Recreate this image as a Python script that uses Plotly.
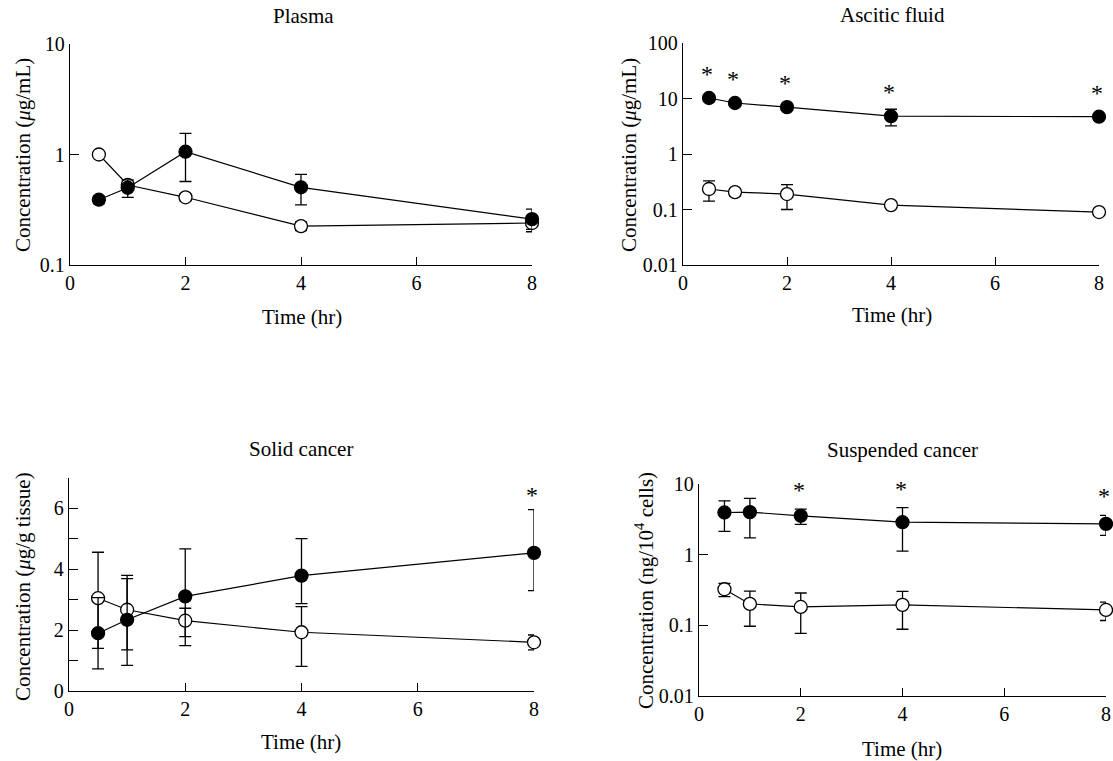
import math
import plotly.graph_objects as go

# ---------------- data ----------------
time = [0.5, 1, 2, 4, 8]

plasma_filled = [0.39, 0.50, 1.06, 0.505, 0.26]
plasma_filled_sd = [0.03, 0.09, 0.49, 0.155, 0.06]
plasma_open = [1.0, 0.53, 0.41, 0.225, 0.24]
plasma_open_sd = [0.05, 0.04, 0.03, 0.02, 0.03]

ascitic_filled = [10.2, 8.3, 7.0, 4.8, 4.7]
ascitic_filled_sd = [1.0, 0.8, 0.8, 1.6, 0.6]
ascitic_open = [0.234, 0.206, 0.19, 0.12, 0.09]
ascitic_open_sd = [0.093, 0.03, 0.09, 0.01, 0.008]

solid_filled = [1.9, 2.34, 3.11, 3.79, 4.54]
solid_filled_up = [1.17, 1.35, 1.56, 1.22, 1.42]
solid_filled_dn = [1.17, 1.50, 1.62, 0.92, 1.24]
solid_open = [3.05, 2.67, 2.31, 1.93, 1.60]
solid_open_up = [1.51, 1.13, 0.41, 0.84, 0.24]
solid_open_dn = [1.65, 1.32, 0.52, 1.12, 0.25]

susp_filled = [3.95, 4.0, 3.55, 2.88, 2.73]
susp_filled_sd = [1.82, 2.27, 0.87, 1.76, 0.86]
susp_open = [0.324, 0.201, 0.182, 0.195, 0.165]
susp_open_sd = [0.069, 0.104, 0.105, 0.107, 0.048]

# significance markers (indices into time)
ascitic_star_idx = [0, 1, 2, 3, 4]
solid_star_idx = [4]
susp_star_idx = [2, 3, 4]

panel_titles = ["Plasma", "Ascitic fluid", "Solid cancer", "Suspended cancer"]
x_title = "Time (hr)"
y_titles = ["Concentration (<i>μ</i>g/mL)", "Concentration (<i>μ</i>g/mL)",
            "Concentration (<i>μ</i>g/g tissue)", "Concentration (ng/10<sup>4</sup> cells)"]
x_ticks = [0, 2, 4, 6, 8]
log_ticks_plasma = [0.1, 1, 10]
log_ticks_ascitic = [0.01, 0.1, 1, 10, 100]
log_ticks_susp = [0.01, 0.1, 1, 10]
lin_ticks_solid = [0, 2, 4, 6]
lin_minor_ticks_solid = [1, 3, 5]

# ---------------- layout helpers ----------------
W, H = 1113, 761
FONT = "Liberation Serif"
FS_TICK = 20
FS_TITLE = 21
FS_STAR = 24


def px(x):
    return x / W


def py(y):
    return 1 - y / H


# panel boxes in pixels: (left, right, top, bottom)
boxes = [(70, 532, 44, 265), (683, 1099, 43, 265), (69, 534, 478, 691), (699, 1106, 484, 696)]

fig = go.Figure()


def add_series(n, y, up, dn, filled):
    ax = "" if n == 1 else str(n)
    fig.add_trace(go.Scatter(
        x=time, y=y, mode="lines+markers", xaxis="x" + ax, yaxis="y" + ax,
        line=dict(color="black", width=1.2),
        marker=dict(size=13, color="black" if filled else "white",
                    line=dict(color="black", width=1.3)),
        error_y=dict(type="data", symmetric=False, array=up, arrayminus=dn,
                     color="black", thickness=1.3, width=6),
        cliponaxis=False, showlegend=False, hoverinfo="x+y"))


add_series(1, plasma_open, plasma_open_sd, plasma_open_sd, False)
add_series(1, plasma_filled, plasma_filled_sd, plasma_filled_sd, True)
add_series(2, ascitic_open, ascitic_open_sd, ascitic_open_sd, False)
add_series(2, ascitic_filled, ascitic_filled_sd, ascitic_filled_sd, True)
add_series(3, solid_open, solid_open_up, solid_open_dn, False)
add_series(3, solid_filled, solid_filled_up, solid_filled_dn, True)
add_series(4, susp_open, susp_open_sd, susp_open_sd, False)
add_series(4, susp_filled, susp_filled_sd, susp_filled_sd, True)

axis_common = dict(showline=True, linecolor="black", linewidth=1.3, ticks="inside",
                   tickcolor="black", tickwidth=1.3, showgrid=False, zeroline=False,
                   automargin=False, mirror=False,
                   tickfont=dict(family=FONT, size=FS_TICK, color="black"))

layout = dict(template="none", width=W, height=H, autosize=False,
              margin=dict(l=0, r=0, t=0, b=0, pad=0, autoexpand=False),
              paper_bgcolor="white", plot_bgcolor="white",
              font=dict(family=FONT, size=FS_TITLE, color="black"))

yspecs = [
    dict(type="log", range=[-1, 1], tickvals=log_ticks_plasma, ticktext=[str(v) for v in log_ticks_plasma]),
    dict(type="log", range=[-2, 2], tickvals=log_ticks_ascitic, ticktext=[str(v) for v in log_ticks_ascitic]),
    dict(type="linear", range=[0, 7], tickvals=lin_ticks_solid, ticktext=[str(v) for v in lin_ticks_solid],
         minor=dict(tickvals=lin_minor_ticks_solid, ticks="inside", ticklen=9, tickwidth=1.3,
                    tickcolor="black", showgrid=False)),
    dict(type="log", range=[-2, 1], tickvals=log_ticks_susp, ticktext=[str(v) for v in log_ticks_susp]),
]

for i, (l, r, t, b) in enumerate(boxes):
    n = i + 1
    ax = "" if n == 1 else str(n)
    layout["xaxis" + ax] = dict(axis_common, domain=[px(l), px(r)], range=[0, 8],
                                tickvals=x_ticks, ticklen=8, anchor="y" + ax)
    layout["yaxis" + ax] = dict(axis_common, domain=[py(b), py(t)], ticklen=9,
                                anchor="x" + ax, **yspecs[i])

fig.update_layout(**layout)

annotations = []
# panel titles
title_pos = [(303, 16), (892, 15), (301, 449), (902, 450)]
for (x, y), txt in zip(title_pos, panel_titles):
    annotations.append(dict(x=px(x), y=py(y), xref="paper", yref="paper", text=txt,
                            showarrow=False, xanchor="center", yanchor="middle"))
# x titles
xt_pos = [(302, 317), (892, 315), (301, 742), (902, 749)]
for (x, y) in xt_pos:
    annotations.append(dict(x=px(x), y=py(y), xref="paper", yref="paper", text=x_title,
                            showarrow=False, xanchor="center", yanchor="middle"))
# y titles
yt_pos = [(23, 155), (629, 155), (23, 587), (644, 591)]
for (x, y), txt in zip(yt_pos, y_titles):
    annotations.append(dict(x=px(x), y=py(y), xref="paper", yref="paper", text=txt,
                            textangle=-90, showarrow=False, xanchor="center", yanchor="middle"))

# stars
star_font = dict(family=FONT, size=FS_STAR, color="black")
for i in ascitic_star_idx:
    annotations.append(dict(x=time[i], y=math.log10(ascitic_filled[i]), xref="x2", yref="y2",
                            text="*", showarrow=False, yshift=24, xshift=-2, font=star_font))
for i in solid_star_idx:
    annotations.append(dict(x=time[i], y=solid_filled[i] + solid_filled_up[i], xref="x3", yref="y3",
                            text="*", showarrow=False, yshift=15, xshift=-2, font=star_font))
for i in susp_star_idx:
    annotations.append(dict(x=time[i], y=math.log10(susp_filled[i] + susp_filled_sd[i]), xref="x4",
                            yref="y4", text="*", showarrow=False, yshift=19, xshift=-2,
                            font=star_font))

fig.update_layout(annotations=annotations)
fig.write_html("out.html", config={"displayModeBar": False},
               post_script="document.body.style.margin='0';document.body.style.overflow='hidden';")
